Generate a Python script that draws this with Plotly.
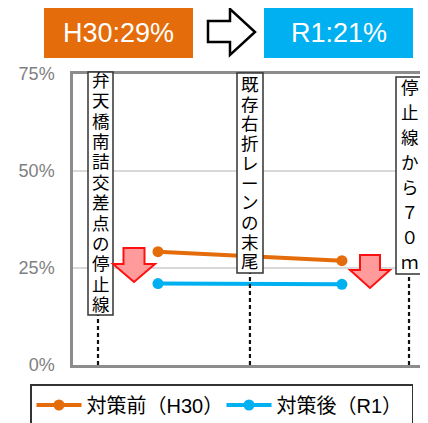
import plotly.graph_objects as go

# ---- data ----
series_names = ["対策前（H30）", "対策後（R1）"]
series_colors = ["#E46C0A", "#00B0F0"]
point_x_m = [13.5, 54.9]           # position along the approach (m from stop line)
before_h30 = [29.2, 26.9]          # %
after_r1 = [21.0, 20.8]            # %
y_ticks = [0, 25, 50, 75]
y_tick_labels = ["0%", "25%", "50%", "75%"]
marker_x_m = [0, 34.2, 70]
marker_labels = ["弁天橋南詰交差点の停止線", "既存右折レーンの末尾", "停止線から７０ｍ"]
summary_labels = ["H30:29%", "R1:21%"]

# page body has an 8px margin: figure is drawn at (8, 8) in the window
OFF = 8
W, H = 428 - OFF, 423 - OFF
L, R, T, B = 73 - OFF, 0, 74 - OFF, 423 - 365
PW, PH = W - L - R, H - T - B
JP = "Liberation Sans, Noto Sans CJK JP"

def px(x):   # window pixel -> paper
    return (x - OFF - L) / PW

def py(y):
    return (H - B - (y - OFF)) / PH

fig = go.Figure()
for name, col, vals in zip(series_names, series_colors, [before_h30, after_r1]):
    fig.add_trace(go.Scatter(
        x=point_x_m, y=vals, name=name, mode="lines+markers",
        line=dict(color=col, width=4), marker=dict(color=col, size=11),
    ))

shapes = []
annotations = []

# marker boxes: (left, right, top, bottom px), first char centre, char pitch
box_geo = [(88, 113, 72, 315, 81, 20.36), (237, 263, 73, 273, 85, 19.7), (396, 423, 77, 274, 88, 25.0)]
for xm, label, (bl, br, bt, bb, c0, pitch) in zip(marker_x_m, marker_labels, box_geo):
    shapes.append(dict(type="line", xref="x", yref="paper", x0=xm, x1=xm, y0=0, y1=py(bb),
                       line=dict(color="#111111", width=2.2, dash="4px,3px"), layer="above"))
    shapes.append(dict(type="rect", xref="paper", yref="paper", x0=px(bl), x1=px(br), y0=py(bb), y1=py(bt),
                       fillcolor="white", line=dict(color="#333333", width=1.5), layer="above"))
    cx = (bl + br) / 2
    for i, ch in enumerate(label):
        annotations.append(dict(xref="paper", yref="paper", x=px(cx), y=py(c0 + i * pitch), text=ch,
                                showarrow=False, xanchor="center", yanchor="middle", borderpad=0,
                                font=dict(size=17.5, color="black", family=JP)))

# red down arrows
def down_arrow(cx, hw, top, head, tip):
    sw = hw / 2
    pts = [(cx - sw, top), (cx + sw, top), (cx + sw, head), (cx + hw, head), (cx, tip), (cx - hw, head), (cx - sw, head)]
    return "M" + " L".join(f"{px(a):.5f},{py(b):.5f}" for a, b in pts) + " Z"

for cx, hw, top, head, tip in [(134, 21, 248, 264, 282), (370, 20, 255, 270, 288)]:
    shapes.append(dict(type="path", xref="paper", yref="paper", path=down_arrow(cx, hw, top, head, tip),
                       fillcolor="#FF9B9B", line=dict(color="#FF1010", width=2), layer="above"))

# summary boxes at top
for (x0, x1), col, txt in zip([(44, 193), (264, 413)], series_colors, summary_labels):
    shapes.append(dict(type="rect", xref="paper", yref="paper", x0=px(x0), x1=px(x1), y0=py(58), y1=py(6),
                       fillcolor=col, line=dict(width=0), layer="above"))
    annotations.append(dict(xref="paper", yref="paper", x=px((x0 + x1) / 2), y=py(33), text=txt,
                            showarrow=False, xanchor="center", yanchor="middle",
                            font=dict(size=27, color="white", family="Liberation Sans")))

# outline arrow between boxes
pts = [(208, 21), (230, 21), (230, 9), (255, 32), (230, 55), (230, 42), (208, 42)]
shapes.append(dict(type="path", xref="paper", yref="paper",
                   path="M" + " L".join(f"{px(a):.5f},{py(b):.5f}" for a, b in pts) + " Z",
                   fillcolor="white", line=dict(color="black", width=2.5), layer="above"))

fig.update_layout(
    width=W, height=H, margin=dict(l=L, r=R, t=T, b=B, autoexpand=False),
    paper_bgcolor="white", plot_bgcolor="white",
    shapes=shapes, annotations=annotations,
    showlegend=True,
    legend=dict(orientation="h", x=px(30), y=py(384), xanchor="left", yanchor="top",
                bordercolor="#333333", borderwidth=1.5, bgcolor="white", itemwidth=45,
                entrywidth=130, font=dict(size=20, color="black", family=JP)),
    font=dict(family=JP),
)
fig.update_xaxes(range=[(73 - 98) / 4.443, (428 - 98) / 4.443], showgrid=False, zeroline=False,
                 showticklabels=False, showline=True, linecolor="#8C8C8C", linewidth=2.5, mirror=True,
                 fixedrange=True)
fig.update_yaxes(range=[0, 75], tickvals=y_ticks, ticktext=y_tick_labels, showgrid=True,
                 gridcolor="#D9D9D9", gridwidth=2, zeroline=False, showline=True, linecolor="#8C8C8C",
                 linewidth=2.5, tickfont=dict(size=18, color="#808080", family="Liberation Sans"),
                 ticklabelstandoff=12, fixedrange=True)

fig.write_html("out.html")
